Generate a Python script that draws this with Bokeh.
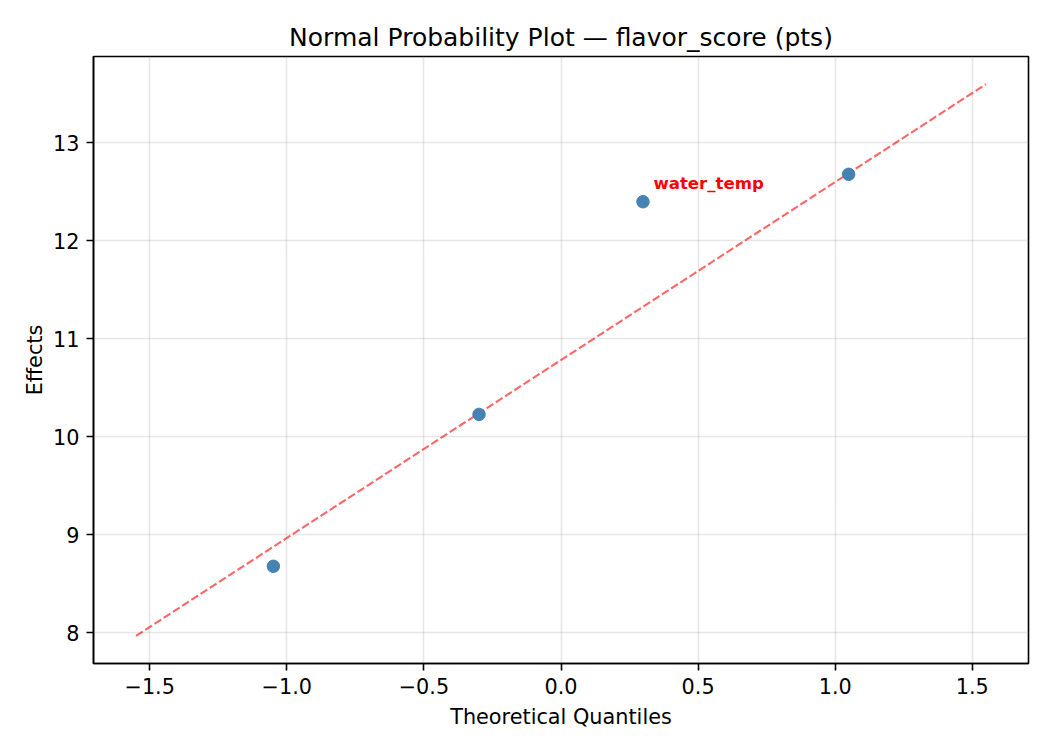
from bokeh.plotting import figure
from bokeh.models import Range1d, FixedTicker, CustomJSTickFormatter, ColumnDataSource
from bokeh.core.properties import value
from bokeh.embed import file_html
from bokeh.resources import INLINE

# ---- data ----
quantiles = [-1.049, -0.299, 0.299, 1.049]
effects = [8.68, 10.23, 12.40, 12.68]
line_x = [-1.55, 1.55]
line_y = [7.97, 13.60]
label_x = [0.299]
label_y = [12.40]
label_text = ["water_temp"]
x_ticks = [-1.5, -1.0, -0.5, 0.0, 0.5, 1.0, 1.5]
y_ticks = [8, 9, 10, 11, 12, 13]

FONT = "DejaVu Sans"

p = figure(
    width=1040, height=735,
    x_range=Range1d(-1.705, 1.705), y_range=Range1d(7.688, 13.882),
    output_backend="svg", toolbar_location=None,
    title="Normal Probability Plot — flavor_score (pts)",
    min_border_left=93, min_border_right=12, min_border_top=56, min_border_bottom=72,
)
p.background_fill_color = "white"
p.border_fill_color = "white"
p.outline_line_color = "black"
p.outline_line_width = 1.6

p.title.align = "center"
p.title.text_font = FONT
p.title.text_font_size = "25px"
p.title.text_font_style = "normal"
p.title.text_color = "black"
p.title.standoff = 10

for ax in (p.xaxis[0], p.yaxis[0]):
    ax.axis_line_color = "black"
    ax.axis_line_width = 1.6
    ax.major_tick_line_color = "black"
    ax.major_tick_line_width = 1.6
    ax.major_tick_in = 0
    ax.major_tick_out = 7
    ax.minor_tick_line_color = None
    ax.major_label_standoff = 7
    ax.major_label_text_font = FONT
    ax.major_label_text_font_size = "20.8px"
    ax.major_label_text_color = "black"
    ax.axis_label_text_font = FONT
    ax.axis_label_text_font_size = "20.8px"
    ax.axis_label_text_font_style = "normal"
    ax.axis_label_text_color = "black"
    ax.axis_label_standoff = 8

p.yaxis.axis_label_standoff = 3
p.xaxis.axis_label = "Theoretical Quantiles"
p.yaxis.axis_label = "Effects"
p.xaxis.ticker = FixedTicker(ticks=x_ticks)
p.yaxis.ticker = FixedTicker(ticks=y_ticks)
p.xaxis.formatter = CustomJSTickFormatter(code="return tick.toFixed(1).replace('-', '\\u2212');")
p.yaxis.formatter = CustomJSTickFormatter(code="return tick.toFixed(0).replace('-', '\\u2212');")

p.grid.grid_line_color = "#b0b0b0"
p.grid.grid_line_alpha = 0.3
p.grid.grid_line_width = 1.6

# reference line
p.line(line_x, line_y, line_color="red", line_alpha=0.6, line_width=2.1, line_dash="8 3")

# points
src = ColumnDataSource(dict(x=quantiles, y=effects))
p.scatter("x", "y", source=src, size=12.5, fill_color="#4682b4", line_color="#4682b4")

# annotation
lsrc = ColumnDataSource(dict(x=label_x, y=label_y, t=label_text))
p.text("x", "y", text="t", source=lsrc, x_offset=10.4, y_offset=-18,
       text_font=value(FONT), text_font_size="16.6px", text_font_style="bold",
       text_color="red", text_align="left", text_baseline="alphabetic")

open("out.html", "w").write(file_html(p, INLINE))
